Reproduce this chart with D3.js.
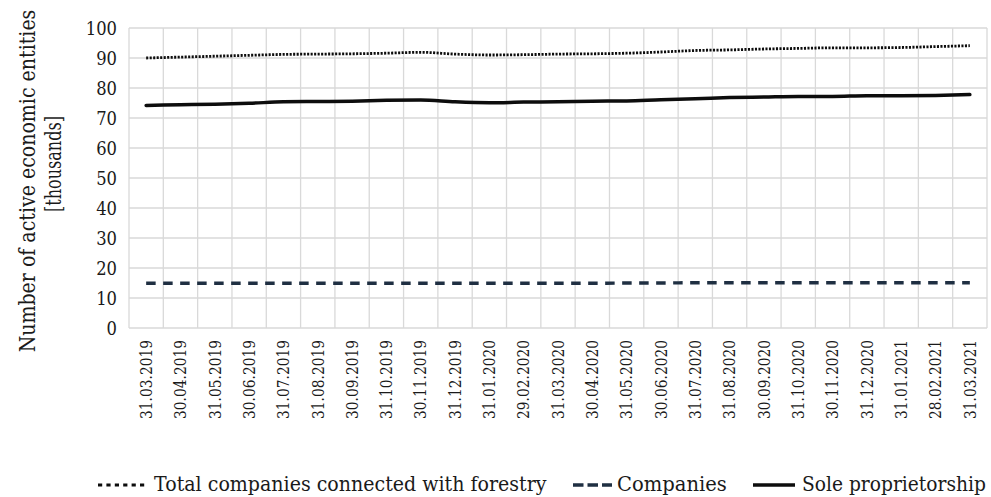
<!DOCTYPE html>
<html><head><meta charset="utf-8">
<script src="https://cdn.jsdelivr.net/npm/d3@7"></script>
<style>body{margin:0;background:#fff}svg{display:block}</style>
</head><body><svg id="c" width="991" height="497"></svg>
<script>
const categories = ["31.03.2019","30.04.2019","31.05.2019","30.06.2019","31.07.2019","31.08.2019","30.09.2019","31.10.2019","30.11.2019","31.12.2019","31.01.2020","29.02.2020","31.03.2020","30.04.2020","31.05.2020","30.06.2020","31.07.2020","31.08.2020","30.09.2020","31.10.2020","30.11.2020","31.12.2020","31.01.2021","28.02.2021","31.03.2021"];
const totalForestry = [90.0,90.3,90.6,90.9,91.2,91.3,91.4,91.6,91.9,91.3,91.0,91.1,91.3,91.4,91.6,92.0,92.5,92.7,93.0,93.2,93.4,93.4,93.5,93.8,94.1];
const companies = [14.9,14.9,14.9,14.9,14.9,14.9,14.9,14.9,14.9,14.9,14.9,14.9,14.9,14.9,15.0,15.0,15.1,15.1,15.1,15.1,15.1,15.1,15.1,15.1,15.1];
const soleProprietorship = [74.2,74.4,74.6,74.9,75.4,75.5,75.6,75.9,76.0,75.4,75.1,75.3,75.4,75.6,75.7,76.1,76.4,76.8,77.0,77.2,77.2,77.4,77.4,77.5,77.8];
const yTicks = [0,10,20,30,40,50,60,70,80,90,100];
const seriesNames = ["Total companies connected with forestry","Companies","Sole proprietorship"];

const FONT = "DejaVu Serif";
const svg = d3.select("#c");
const L=129, R=987, T=28, B=328;
const x = d3.scaleBand().domain(categories).range([L,R]);
const y = d3.scaleLinear().domain([0,100]).range([B,T]);
const grid="#d9d9d9";
const ink="#1a1a1a";

svg.append("g").selectAll("line").data(yTicks).join("line")
 .attr("x1",L).attr("x2",R).attr("y1",d=>y(d)).attr("y2",d=>y(d))
 .attr("stroke",grid).attr("stroke-width",1.3);
const bounds = categories.map(c=>x(c)).concat([R]);
svg.append("g").selectAll("line").data(bounds).join("line")
 .attr("x1",d=>d).attr("x2",d=>d).attr("y1",T).attr("y2",B)
 .attr("stroke",grid).attr("stroke-width",1.3);

// y axis labels
const ya = svg.append("g").attr("transform",`translate(${L},0)`)
 .call(d3.axisLeft(y).tickValues(yTicks).tickSize(0).tickPadding(12));
ya.attr("font-family",FONT).attr("font-size",19);
ya.select(".domain").remove();
ya.selectAll("text").attr("fill",ink)
 .attr("textLength",d=>String(d).length*10.4).attr("lengthAdjust","spacingAndGlyphs");

// x axis labels
const xa = svg.append("g").attr("transform",`translate(0,${B})`)
 .call(d3.axisBottom(x).tickSize(0).tickPadding(0));
xa.attr("font-family",FONT).attr("font-size",16);
xa.select(".domain").remove();
xa.selectAll("text").attr("transform","rotate(-90)").attr("text-anchor","end")
 .attr("x",-12).attr("y",0).attr("dy","0.36em").attr("fill",ink)
 .attr("textLength",79).attr("lengthAdjust","spacingAndGlyphs");

// helper: narrow a text horizontally (serif fallback is wider than the original Times)
function fitted(parent, pre, str, size, target, anchor){
  const g = parent.append("g");
  const t = g.append("text").attr("font-family",FONT).attr("font-size",size)
   .attr("fill",ink).attr("text-anchor",anchor).text(str);
  const w = t.node().getComputedTextLength();
  g.attr("transform", `${pre} scale(${target/w},1)`);
  return g;
}

// y title (two lines)
fitted(svg, "translate(35,181) rotate(-90)", "Number of active economic entities", 22, 343, "middle");
fitted(svg, "translate(61,164) rotate(-90)", "[thousands]", 22, 96, "middle");

const cx = d => x(d)+x.bandwidth()/2;
const line = d3.line().x((d,i)=>cx(categories[i])).y(d=>y(d)).curve(d3.curveMonotoneX);

svg.append("path").datum(totalForestry).attr("d",line).attr("fill","none")
 .attr("stroke","#0d0d0d").attr("stroke-width",2.8).attr("stroke-dasharray","2.1 1.4");
svg.append("path").datum(companies).attr("d",line).attr("fill","none")
 .attr("stroke","#1f2f42").attr("stroke-width",3.4).attr("stroke-dasharray","9.5 7.5");
svg.append("path").datum(soleProprietorship).attr("d",line).attr("fill","none")
 .attr("stroke","#0d0d0d").attr("stroke-width",3.5).attr("stroke-linecap","round");

// legend
const leg = [
 {name:seriesNames[0], x1:98, x2:148, tx:154, tl:393, dash:"4.2 4.2", w:3, c:"#0d0d0d"},
 {name:seriesNames[1], x1:573, x2:612, tx:617, tl:110, dash:"10.5 4", w:3.4, c:"#1f2f42"},
 {name:seriesNames[2], x1:753, x2:795, tx:802, tl:184, dash:null, w:3.6, c:"#0d0d0d"}
];
const ly=485;
leg.forEach(l=>{
 svg.append("line").attr("x1",l.x1).attr("x2",l.x2).attr("y1",ly).attr("y2",ly)
  .attr("stroke",l.c).attr("stroke-width",l.w).attr("stroke-dasharray",l.dash);
 fitted(svg, `translate(${l.tx},${ly+6})`, l.name, 21, l.tl, "start");
});
</script></body></html>
